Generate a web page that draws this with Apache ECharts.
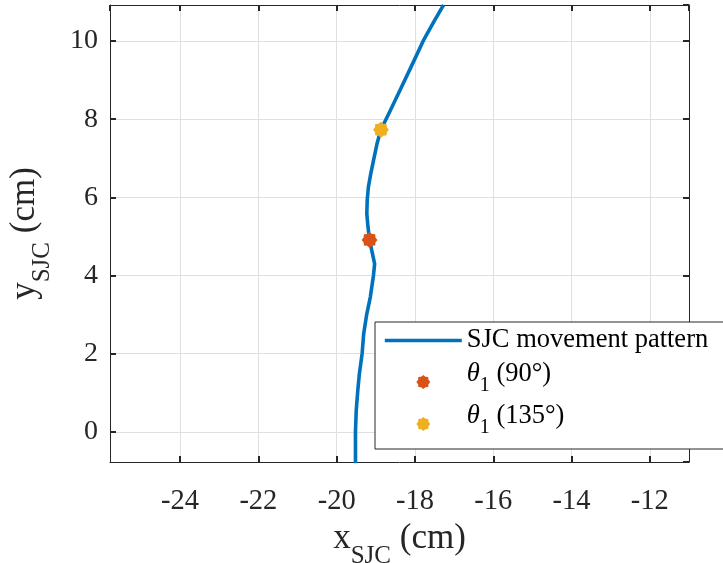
<!DOCTYPE html>
<html>
<head>
<meta charset="utf-8">
<script src="https://cdn.jsdelivr.net/npm/echarts@6/dist/echarts.min.js"></script>
<style>
html,body{margin:0;padding:0;background:#fff;}
#chart{width:723px;height:563px;}
</style>
</head>
<body>
<div id="chart"></div>
<script>
// SJC movement pattern (x, y in cm)
const xSJC = [-19.52, -19.52, -19.50, -19.46, -19.42, -19.35, -19.31, -19.23, -19.14, -19.06, -19.03, -19.16, -19.20, -19.23, -19.22, -19.19, -19.13, -19.06, -18.97, -18.87, -18.63, -18.34, -18.06, -17.79, -17.52, -17.27];
const ySJC = [-0.80, 0.00, 0.55, 1.07, 1.49, 2.00, 2.51, 3.02, 3.45, 4.00, 4.30, 4.91, 5.24, 5.58, 5.92, 6.26, 6.60, 6.94, 7.37, 7.73, 8.22, 8.83, 9.42, 10.00, 10.49, 10.92];
const theta90 = [-19.16, 4.91];
const theta135 = [-18.87, 7.73];
const seriesNames = ['SJC movement pattern', 'θ1 (90°)', 'θ1 (135°)'];
const xRange = [-25.79, -11.0];
const yRange = [-0.77, 10.92];

const serif = '"Liberation Serif", "Times New Roman", serif';
const axisColor = '#262626';
const starPath = 'path://M20,10L17.4,13.1L17.07,17.07L13.1,17.4L10,20L6.9,17.4L2.93,17.07L2.6,13.1L0,10L2.6,6.9L2.93,2.93L6.9,2.6L10,0L13.1,2.6L17.07,2.93L17.4,6.9Z';

const lineData = xSJC.map((x, i) => [x, ySJC[i]]);

const chart = echarts.init(document.getElementById('chart'), null, {renderer: 'canvas'});

function baseAxis(extra) {
  return Object.assign({
    type: 'value',
    splitNumber: 7,
    minInterval: 2,
    maxInterval: 2,
    axisLine: {show: true, onZero: false, lineStyle: {color: axisColor, width: 1}},
    axisTick: {show: true, inside: true, length: 6, lineStyle: {color: axisColor, width: 2}},
    splitLine: {show: false},
    axisLabel: {show: false}
  }, extra);
}

const nameRich = {
  m: {fontFamily: serif, fontSize: 35, color: axisColor, lineHeight: 36, verticalAlign: 'bottom', padding: [0, 0, 13, 0]},
  s: {fontFamily: serif, fontSize: 25, color: axisColor, lineHeight: 25, verticalAlign: 'bottom'}
};

const legendRich = {
  n: {fontFamily: serif, fontSize: 26.5, color: '#000000', lineHeight: 28},
  m: {fontFamily: serif, fontSize: 26.5, color: '#000000', lineHeight: 28, verticalAlign: 'bottom', padding: [0, 0, 8, 0]},
  t: {fontFamily: serif, fontSize: 26.5, fontStyle: 'italic', color: '#000000', lineHeight: 28, verticalAlign: 'bottom', padding: [0, 0, 8, 0]},
  s: {fontFamily: serif, fontSize: 20, color: '#000000', lineHeight: 20, verticalAlign: 'bottom'}
};

const option = {
  backgroundColor: '#ffffff',
  animation: false,
  grid: {left: 110, top: 5, right: 34, bottom: 101, containLabel: false, outerBoundsMode: 'none'},
  xAxis: [
    baseAxis({
      position: 'bottom', min: xRange[0], max: xRange[1],
      splitLine: {show: true, lineStyle: {color: '#dfdfdf', width: 1}},
      axisLabel: {show: true, showMinLabel: false, showMaxLabel: false, fontFamily: serif, fontSize: 28.5, color: axisColor, margin: 25},
      name: '{m|x}{s|SJC}{m| (cm)}',
      nameLocation: 'middle',
      nameGap: 56,
      nameTextStyle: {rich: nameRich}
    }),
    baseAxis({position: 'top', min: xRange[0], max: xRange[1]})
  ],
  yAxis: [
    baseAxis({
      position: 'left', min: yRange[0], max: yRange[1], splitNumber: 6,
      splitLine: {show: true, lineStyle: {color: '#dfdfdf', width: 1}},
      axisLabel: {show: true, showMinLabel: false, showMaxLabel: false, fontFamily: serif, fontSize: 28, color: axisColor, margin: 12},
      name: '{m|y}{s|SJC}{m| (cm)}',
      nameLocation: 'middle',
      nameGap: 55,
      nameTextStyle: {rich: nameRich}
    }),
    baseAxis({position: 'right', min: yRange[0], max: yRange[1], splitNumber: 6})
  ],
  legend: {
    orient: 'vertical',
    left: 375,
    top: 322,
    padding: [5, 30, 11, 8],
    itemWidth: 77,
    itemHeight: 14,
    itemGap: 7,
    backgroundColor: '#ffffff',
    borderColor: axisColor,
    borderWidth: 1,
    borderRadius: 0,
    data: [
      {name: seriesNames[0], itemStyle: {opacity: 0}, lineStyle: {width: 3.6, color: '#0072BD'}},
      {name: seriesNames[1]},
      {name: seriesNames[2]}
    ],
    formatter: function (name) {
      if (name.charAt(0) === 'θ') {
        return '{t|θ}{s|1}{m|' + name.slice(2) + '}';
      }
      return '{n|' + name + '}';
    },
    textStyle: {
      fontFamily: serif,
      fontSize: 26.5,
      color: '#000000',
      rich: legendRich
    }
  },
  series: [
    {
      name: seriesNames[0],
      type: 'line',
      xAxisIndex: 0, yAxisIndex: 0,
      data: lineData,
      showSymbol: false,
      symbol: 'none',
      smooth: false,
      clip: true,
      lineStyle: {color: '#0072BD', width: 3.6, join: 'round', cap: 'butt'},
      itemStyle: {color: '#0072BD', opacity: 0},
      z: 3
    },
    {
      name: seriesNames[1],
      type: 'scatter',
      xAxisIndex: 0, yAxisIndex: 0,
      data: [theta90],
      symbol: starPath,
      symbolSize: 16,
      symbolKeepAspect: true,
      itemStyle: {color: '#D95319', opacity: 1},
      z: 4
    },
    {
      name: seriesNames[2],
      type: 'scatter',
      xAxisIndex: 0, yAxisIndex: 0,
      data: [theta135],
      symbol: starPath,
      symbolSize: 16,
      symbolKeepAspect: true,
      itemStyle: {color: '#EDB120', opacity: 1},
      z: 4
    }
  ]
};
chart.setOption(option);
</script>
</body>
</html>
